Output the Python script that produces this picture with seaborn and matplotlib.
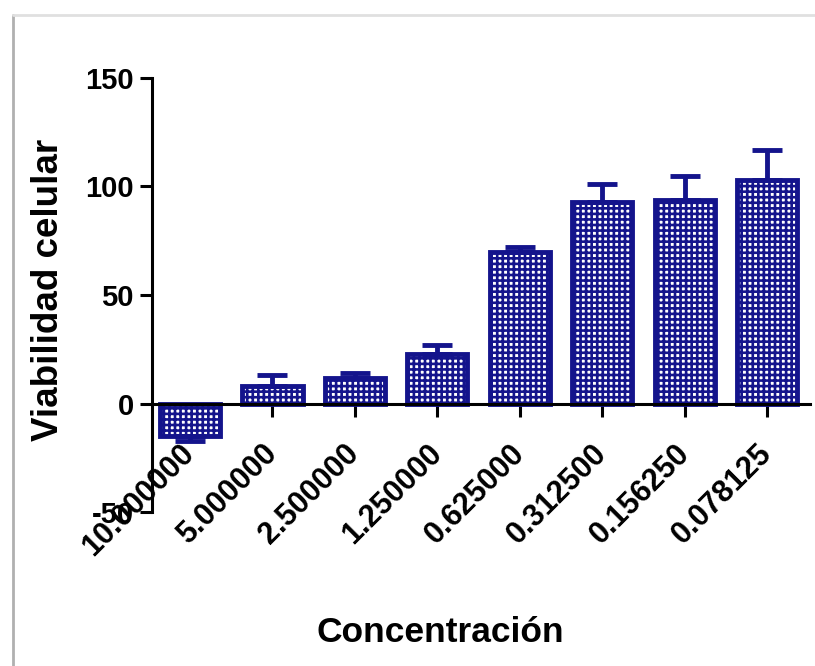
import numpy as np
import pandas as pd
import matplotlib
matplotlib.use("Agg")
import matplotlib.pyplot as plt
import seaborn as sns
from matplotlib.lines import Line2D

concentraciones = ["10.000000", "5.000000", "2.500000", "1.250000",
                   "0.625000", "0.312500", "0.156250", "0.078125"]
viabilidad = [-15, 8, 12, 23, 70, 93, 94, 103]
error_sem = [2, 5, 2, 4, 2, 8, 11, 14]
y_ticks = [-50, 0, 50, 100, 150]

navy = "#14148c"

sns.set_style("white")
plt.rcParams["font.family"] = ["Liberation Sans", "DejaVu Sans"]
plt.rcParams["font.weight"] = "bold"
plt.rcParams["hatch.linewidth"] = 1.9
plt.rcParams["hatch.color"] = navy

df = pd.DataFrame({"conc": concentraciones, "viab": viabilidad})

fig = plt.figure(figsize=(8.15, 6.66), dpi=100)
ax = fig.add_axes([0.1865, 0.231, 0.8075, 0.652])

sns.barplot(data=df, x="conc", y="viab", order=concentraciones, errorbar=None,
            color="white", width=0.73, ax=ax)
for p in ax.patches:
    p.set_facecolor("white")
    p.set_edgecolor(navy)
    p.set_linewidth(3.5)
    p.set_hatch("+++")

# error bars only away from zero, like the original
vals = np.array(viabilidad, dtype=float)
err = np.array(error_sem, dtype=float)
lower = np.where(vals < 0, err, 0)
upper = np.where(vals >= 0, err, 0)
ax.errorbar(np.arange(len(vals)), vals, yerr=[lower, upper], fmt="none",
            ecolor=navy, elinewidth=3.5, capsize=11, capthick=3.5, zorder=1)

for side in ["top", "right"]:
    ax.spines[side].set_visible(False)
ax.spines["bottom"].set_position(("data", 0))
for side in ["left", "bottom"]:
    ax.spines[side].set_linewidth(2.2)
    ax.spines[side].set_color("black")

ax.set_ylim(-50, 150)
ax.set_xlim(-0.46, 7.52)
ax.set_yticks(y_ticks)
ax.set_yticklabels([str(t) for t in y_ticks], fontsize=21, fontweight="bold",
                   color="black")
ax.set_xticks(range(len(concentraciones)))
ax.set_xticklabels(concentraciones, rotation=45, ha="right", va="center",
                   rotation_mode="anchor", fontsize=22, fontweight="bold",
                   color="black")
ax.set_xlabel("")
ax.set_ylabel("")

ax.tick_params(axis="both", direction="out", length=9, width=2.2,
               color="black", pad=4, bottom=True, left=True)
ax.tick_params(axis="x", pad=24)

fig.text(440 / 815, 1 - 632 / 666, "Concentración", ha="center", va="center",
         fontsize=25.5, fontweight="bold", color="black")
fig.text(49 / 815, 1 - 290 / 666, "Viabilidad celular", ha="center", va="center",
         rotation=90, fontsize=26.5, fontweight="bold", color="black")

# light frame from the screenshot border
fig.add_artist(Line2D([13 / 815, 13 / 815], [0, 1 - 15 / 666],
                      transform=fig.transFigure, color="#b0b0b0", lw=2))
fig.add_artist(Line2D([13 / 815, 1], [1 - 15 / 666, 1 - 15 / 666],
                      transform=fig.transFigure, color="#e0e0e0", lw=2))

fig.savefig("out.png", dpi=100)
